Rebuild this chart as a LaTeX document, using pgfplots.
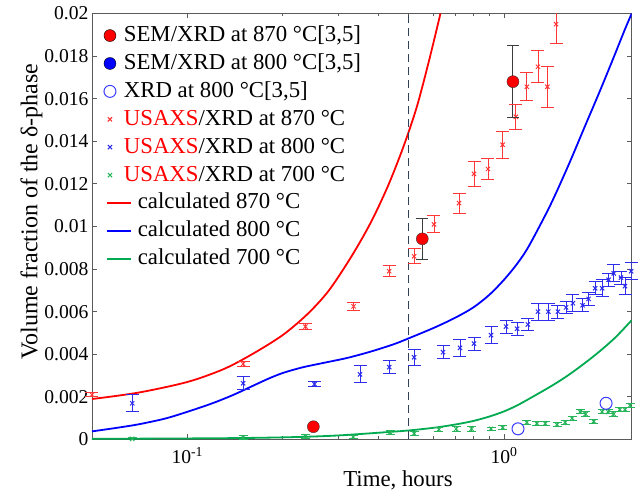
\documentclass[border=0pt]{standalone}
\usepackage{fontspec}
\setmainfont{Liberation Serif}
\usepackage{pgfplots}
\usepackage{pgfplotstable}
\pgfplotsset{compat=1.18}
\definecolor{cred}{RGB}{255,0,0}
\definecolor{mred}{RGB}{255,55,55}
\definecolor{cblue}{RGB}{0,0,255}
\definecolor{mblue}{RGB}{45,45,235}
\definecolor{cgreen}{RGB}{0,170,80}
\definecolor{mgreen}{RGB}{40,180,90}
\definecolor{dashc}{RGB}{50,65,85}
\definecolor{axc}{RGB}{90,90,90}
\definecolor{oblue}{RGB}{60,60,255}
\definecolor{sembar}{RGB}{60,60,60}
\newcommand{\lf}{\fontsize{22.8}{27}\selectfont}
\newcommand{\yf}{\fontsize{24}{28}\selectfont}
\newcommand{\tf}{\fontsize{19.6}{23}\selectfont}

\pgfplotstableread{
x y e
0.05 0.0021 0.0001
0.15 0.00355 0.0001
0.236 0.0053 0.00015
0.335 0.00625 0.0002
0.434 0.0079 0.00025
0.52 0.0086 0.00035
0.601 0.0101 0.0004
0.721 0.0111 0.00047
0.804 0.01247 0.0006
0.89 0.0127 0.0005
0.99 0.01384 0.00063
1.09 0.01515 0.0006
1.18 0.01656 0.00066
1.28 0.0175 0.00076
1.37 0.01656 0.00097
1.46 0.0195 0.0009
}\redx

\pgfplotstableread{
x y e
0.067 0.0017 0.0004
0.15 0.00264 0.0003
0.252 0.0026 0.00012
0.351 0.00306 0.0004
0.434 0.0034 0.0003
0.52 0.00386 0.00037
0.642 0.0041 0.0003
0.726 0.0043 0.0004
0.804 0.0045 0.0003
0.91 0.0049 0.0004
1.015 0.0053 0.0003
1.10 0.0052 0.0003
1.19 0.0054 0.0003
1.28 0.0060 0.0004
1.38 0.0060 0.0004
1.48 0.0060 0.0003
1.57 0.0062 0.0003
1.65 0.0064 0.0004
1.77 0.0063 0.0003
1.85 0.0066 0.0003
1.94 0.0071 0.0003
2.04 0.0071 0.0004
2.14 0.0075 0.0003
2.22 0.0078 0.0004
2.34 0.0076 0.0003
2.41 0.0072 0.0004
2.52 0.0079 0.0004
}\bluex

\pgfplotstableread{
x y e
0.067 0.00003 0.00008
0.15 0.0001 0.00008
0.236 0.00015 0.00008
0.334 0.00012 0.00008
0.437 0.00033 0.00008
0.52 0.00028 0.0001
0.623 0.00047 0.0001
0.706 0.0005 0.0001
0.79 0.0005 0.0001
0.91 0.0005 0.00008
0.99 0.00056 0.00008
1.18 0.0008 0.0001
1.27 0.00075 0.0001
1.35 0.00075 0.0001
1.47 0.0007 0.0001
1.56 0.0008 0.0001
1.64 0.0010 0.0001
1.74 0.0013 0.0001
1.81 0.0012 0.0001
1.92 0.00085 0.0001
2.04 0.0013 0.0001
2.13 0.0013 0.0001
2.22 0.0012 0.0001
2.32 0.0014 0.0001
2.41 0.0014 0.0001
2.5 0.0016 0.0001
}\greenx

\pgfplotstableread{
x y e
0.552 0.00942 0.00098
1.067 0.0168 0.0017
}\semb

\pgfplotstableread{
x y
0.05 0.0019
0.07 0.0022
0.1 0.0027
0.13 0.0033
0.16 0.0040
0.2 0.0049
0.24 0.0059
0.28 0.0070
0.33 0.0086
0.38 0.0102
0.43 0.0119
0.48 0.0137
0.53 0.0156
0.58 0.0178
0.63 0.0200
}\redc

\pgfplotstableread{
x y
0.05 0.00038
0.06 0.00055
0.07 0.00071
0.085 0.00098
0.1 0.00130
0.12 0.00170
0.14 0.00210
0.16 0.00250
0.18 0.00285
0.2 0.00312
0.23 0.00338
0.27 0.00360
0.32 0.00383
0.38 0.00413
0.45 0.00448
0.5 0.00475
0.6 0.00524
0.7 0.00571
0.8 0.00620
0.9 0.00680
1.0 0.00750
1.1 0.00825
1.2 0.00910
1.4 0.01100
1.6 0.01290
1.8 0.01470
2.0 0.01630
2.2 0.01780
2.4 0.01920
2.53 0.02000
}\bluec

\pgfplotstableread{
x y
0.05 0.00003
0.1 0.00005
0.15 0.00007
0.2 0.00010
0.25 0.00014
0.3 0.00019
0.37 0.00028
0.44 0.00036
0.505 0.00043
0.6 0.00055
0.7 0.00070
0.8 0.00087
0.9 0.00108
1.0 0.00132
1.1 0.00160
1.23 0.00200
1.4 0.00248
1.56 0.00292
1.75 0.00345
1.99 0.00410
2.25 0.00480
2.53 0.00560
}\greenc

\pgfplotsset{
  caps/.style 2 args={forget plot, only marks, mark=text,
    text mark={\textcolor{#1}{\rule[-0.45pt]{#2}{0.9pt}}}},
  xpts/.style={forget plot, only marks, mark=x, mark size=3pt, color=#1, line width=1pt,
    error bars/.cd, y dir=both, y explicit, error mark=none,
    error bar style={#1, line width=0.9pt}},
}

\begin{document}
\begin{tikzpicture}
\begin{axis}[
  at={(92pt,57.5pt)}, anchor=south west,
  scale only axis, width=539.7pt, height=426pt,
  xmode=log, xmin=0.05, xmax=2.53, ymin=0, ymax=0.02,
  xtick={0.1,1}, xticklabels={10\textsuperscript{-1},10\textsuperscript{0}},
  ytick={0,0.002,0.004,0.006,0.008,0.01,0.012,0.014,0.016,0.018,0.02},
  yticklabels={0,0.002,0.004,0.006,0.008,0.01,0.012,0.014,0.016,0.018,0.02},
  scaled y ticks=false,
  axis line style={axc, line width=0.8pt},
  tick style={axc, line width=0.8pt},
  major tick length=5pt, minor tick length=3pt,
  tick label style={font=\tf, black},
  xticklabel style={yshift=-4pt},
  xlabel={Time, hours}, ylabel={Volume fraction of the δ-phase},
  xlabel style={font=\lf, at={(axis description cs:0.567,-0.097)}, anchor=center},
  ylabel style={font=\yf, at={(axis description cs:-0.112,0.535)}, anchor=center},
  legend style={at={(axis description cs:0.0222,0.9740)}, anchor=north west,
    draw=none, fill=none, inner sep=0pt, outer sep=0pt, font=\lf,
    row sep=5.9pt, column sep=6pt,
    nodes={inner sep=0pt, text height=17pt, text depth=5pt}},
  legend cell align=left,
]
\addlegendimage{legend image code/.code={\draw[draw=black, fill=cred, mark=*, mark size=6pt] plot coordinates {(3pt,0pt)};}}
\addlegendentry{\hspace*{-14pt}SEM/XRD at 870 °C[3,5]}
\addlegendimage{legend image code/.code={\draw[draw=black, fill=cblue, mark=*, mark size=6pt] plot coordinates {(3pt,0pt)};}}
\addlegendentry{\hspace*{-14pt}SEM/XRD at 800 °C[3,5]}
\addlegendimage{legend image code/.code={\draw[draw=oblue, fill=none, mark=o, mark size=6pt, line width=1pt] plot coordinates {(3pt,0pt)};}}
\addlegendentry{\hspace*{-14pt}XRD at 800 °C[3,5]}
\addlegendimage{legend image code/.code={\draw[draw=mred, mark=x, mark size=3pt, line width=1.1pt] plot coordinates {(3pt,0pt)};}}
\addlegendentry{\hspace*{-14pt}\textcolor{cred}{USAXS}/XRD at 870 °C}
\addlegendimage{legend image code/.code={\draw[draw=mblue, mark=x, mark size=3pt, line width=1.1pt] plot coordinates {(3pt,0pt)};}}
\addlegendentry{\hspace*{-14pt}\textcolor{cred}{USAXS}/XRD at 800 °C}
\addlegendimage{legend image code/.code={\draw[draw=mgreen, mark=x, mark size=3pt, line width=1.1pt] plot coordinates {(3pt,0pt)};}}
\addlegendentry{\hspace*{-14pt}\textcolor{cred}{USAXS}/XRD at 700 °C}
\addlegendimage{legend image code/.code={\draw[cred, line width=1.8pt] (0pt,0pt) -- (24pt,0pt);}}
\addlegendentry{calculated 870 °C}
\addlegendimage{legend image code/.code={\draw[cblue, line width=1.8pt] (0pt,0pt) -- (24pt,0pt);}}
\addlegendentry{calculated 800 °C}
\addlegendimage{legend image code/.code={\draw[cgreen, line width=1.8pt] (0pt,0pt) -- (24pt,0pt);}}
\addlegendentry{calculated 700 °C}

\addplot[forget plot, cred, line width=1.8pt, smooth, no marks] table[x=x,y=y] {\redc};
\addplot[forget plot, cblue, line width=1.8pt, smooth, no marks] table[x=x,y=y] {\bluec};
\addplot[forget plot, cgreen, line width=1.8pt, smooth, no marks] table[x=x,y=y] {\greenc};
\addplot[forget plot, dashc, line width=1.4pt, dash pattern=on 8pt off 5pt, no marks] coordinates {(0.5,0) (0.5,0.02)};

\addplot[xpts=mred] table[x=x, y=y, y error=e] {\redx};
\addplot[caps={mred}{13pt}] table[x=x, y expr=\thisrow{y}+\thisrow{e}] {\redx};
\addplot[caps={mred}{13pt}] table[x=x, y expr=\thisrow{y}-\thisrow{e}] {\redx};

\addplot[xpts=mblue] table[x=x, y=y, y error=e] {\bluex};
\addplot[caps={mblue}{13pt}] table[x=x, y expr=\thisrow{y}+\thisrow{e}] {\bluex};
\addplot[caps={mblue}{13pt}] table[x=x, y expr=\thisrow{y}-\thisrow{e}] {\bluex};

\addplot[xpts=mgreen] table[x=x, y=y, y error=e] {\greenx};
\addplot[caps={mgreen}{9pt}] table[x=x, y expr=\thisrow{y}+\thisrow{e}] {\greenx};
\addplot[caps={mgreen}{9pt}] table[x=x, y expr=\thisrow{y}-\thisrow{e}] {\greenx};

\addplot[forget plot, only marks, mark=none, color=sembar,
  error bars/.cd, y dir=both, y explicit, error mark=none,
  error bar style={sembar, line width=1pt}]
  table[x=x, y=y, y error=e] {\semb};
\addplot[caps={sembar}{12pt}] table[x=x, y expr=\thisrow{y}+\thisrow{e}] {\semb};
\addplot[caps={sembar}{12pt}] table[x=x, y expr=\thisrow{y}-\thisrow{e}] {\semb};
\addplot[forget plot, only marks, mark=*, mark size=6pt, draw=black!80, fill=cred]
  coordinates {(0.25,0.0006) (0.552,0.00942) (1.067,0.0168)};
\addplot[forget plot, only marks, mark=o, mark size=6pt, oblue, line width=1pt]
  coordinates {(1.107,0.0005) (2.1,0.0017)};
\end{axis}
\pgfresetboundingbox
\useasboundingbox (0,0) rectangle (641pt,497pt);
\end{tikzpicture}
\end{document}
